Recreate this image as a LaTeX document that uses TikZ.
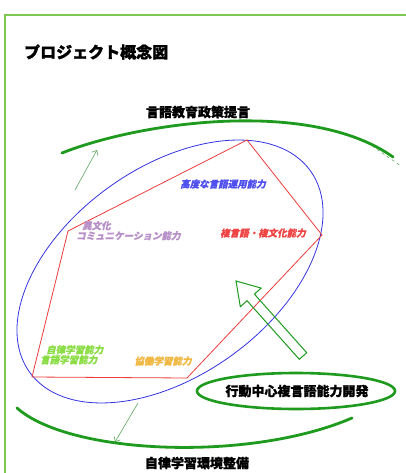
\documentclass[tikz,border=0pt]{standalone}
\usepackage{fontspec}
\setmainfont{Noto Sans CJK JP}[BoldFeatures={FakeBold=1.2}]
\newfontfamily\jpsl{Noto Sans CJK JP}[FakeSlant=0.22,BoldFeatures={FakeSlant=0.22,FakeBold=0.6}]
\usetikzlibrary{arrows.meta}
\definecolor{frameg}{HTML}{7CC850}
\definecolor{brushg}{HTML}{1E9A1E}
\definecolor{thing}{HTML}{5FA85F}
\definecolor{ellb}{HTML}{3434E0}
\definecolor{polyr}{HTML}{EE3C3C}
\definecolor{tblue}{HTML}{5050EE}
\definecolor{tred}{HTML}{EE4444}
\definecolor{tpurp}{HTML}{B890C8}
\definecolor{tgreen}{HTML}{8ADD44}
\definecolor{torange}{HTML}{F0B840}
\tikzset{
  brush/.style={draw=brushg,line width=2.8pt,line cap=round},
  thinarrow/.style={draw=thing,line width=0.6pt,-{Straight Barb[length=4pt,width=7pt]}},
  heading/.style={font=\fontsize{13}{14}\selectfont\bfseries,inner sep=0pt},
  ability/.style={font=\jpsl\fontsize{9.5}{11}\selectfont\bfseries,inner sep=0pt,align=left},
}
\begin{document}
\begin{tikzpicture}[x=1pt,y=-1pt]
\useasboundingbox (0,0) rectangle (406,473);
\fill[white] (0,0) rectangle (406,473);
% frame
\draw[frameg,line width=1.4pt] (5,473) -- (5,15) -- (406,15);
% title
\node[anchor=west,inner sep=0pt,font=\fontsize{16}{18}\selectfont\bfseries] (title) at (24,52) {プロジェクト概念図};
% top arc and label
\node[heading] (policy) at (198,112) {言語教育政策提言};
\draw[brush] (62,153) .. controls (140,122) and (310,98) .. (393,157);
% small arrows
\coordinate (ua1) at (75,190); \coordinate (ua2) at (97,150);
\draw[thinarrow] (ua1) -- (ua2);
\coordinate (da1) at (138,403); \coordinate (da2) at (115,442);
\draw[thinarrow] (da1) -- (da2);
\coordinate (rd1) at (372,146); \coordinate (rd2) at (401,166);
\draw[thing,line width=0.6pt,dashed] (rd1) -- (rd2);
% blue ellipse
\draw[ellb,line width=0.8pt,rotate around={35.6:(170,271.5)}] (170,271.5) ellipse (172.8 and 104.1);
% red polygon
\coordinate (pt) at (247,140);
\coordinate (pr) at (322,235);
\coordinate (pbr) at (187,378);
\coordinate (pbl) at (32,377);
\coordinate (pl) at (68,231);
\draw[polyr,line width=0.8pt] (pt) -- (pr) -- (pbr) -- (pbl) -- (pl) -- cycle;
% ability labels
\node[ability,text=tblue] (high) at (223,184) {高度な言語運用能力};
\node[ability,text=tred] (pluri) at (263,233) {複言語・複文化能力};
\node[ability,text=tpurp,anchor=north west] (inter) at (76,221) {\hspace{6pt}異文化\\[-1pt]コミュニケーション能力};
\node[ability,text=tgreen,anchor=north west] (auto) at (40,345) {\hspace{6pt}自律学習能力\\[-1pt]言語学習能力};
\node[ability,text=torange] (coop) at (163,361) {協働学習能力};
% big outline arrow
\draw[brushg,line width=1pt,line join=miter]
  (236,281) -- (261.1,288.1) -- (254.4,294.1) -- (306.7,352.7) -- (299.3,359.3)
  -- (247,300.7) -- (240.3,306.7) -- cycle;
% action ellipse
\draw[brush,line width=2.6pt] (296,391) ellipse (99 and 18);
\node[heading] (action) at (297,391) {行動中心複言語能力開発};
% bottom arc and label
\draw[brush] (17,408) .. controls (70,455) and (250,462) .. (352,418);
\node[heading] (autoenv) at (197,463) {自律学習環境整備};
\end{tikzpicture}
\end{document}
